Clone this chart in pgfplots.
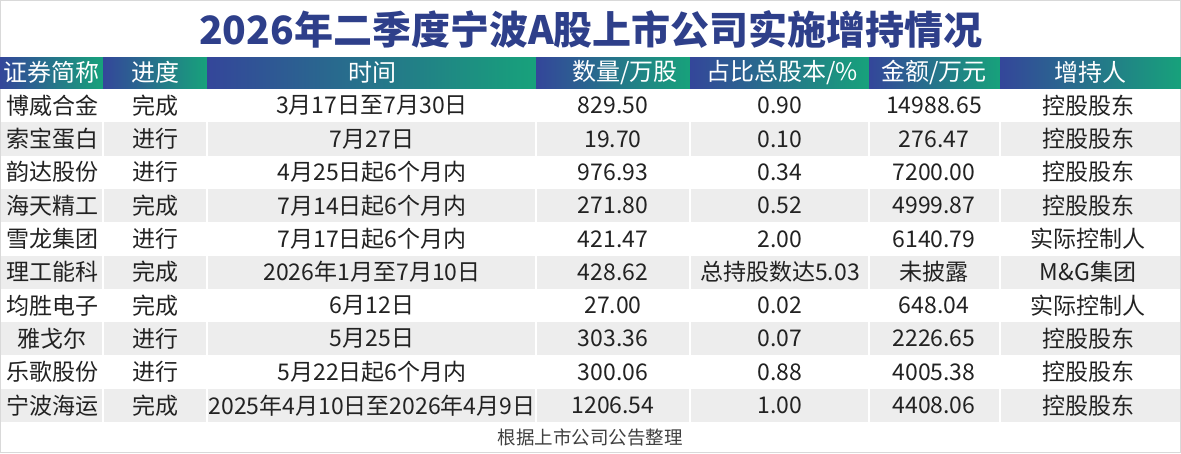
\documentclass[border=0pt]{standalone}
\usepackage{pgfplots}
\usepackage{pgfplotstable}
\pgfplotsset{compat=1.18}
\usepackage{fontspec}
\setmainfont{Noto Sans CJK SC}
\definecolor{hblue}{HTML}{34469A}
\definecolor{hgreen}{HTML}{17A27B}
\definecolor{ttl}{HTML}{2E3F8A}
\definecolor{rowg}{HTML}{EDEDED}
\definecolor{txt}{HTML}{222222}

\pgfplotstableread{
y      name      status  time                        qty      pct             amt        holder
105.6  博威合金  完成    3月17日至7月30日             829.50   0.90            14988.65   控股股东
138.9  索宝蛋白  进行    7月27日                      19.70    0.10            276.47     控股股东
172.2  韵达股份  进行    4月25日起6个月内             976.93   0.34            7200.00    控股股东
205.5  海天精工  完成    7月14日起6个月内             271.80   0.52            4999.87    控股股东
238.8  雪龙集团  进行    7月17日起6个月内             421.47   2.00            6140.79    实际控制人
272.1  理工能科  完成    2026年1月至7月10日           428.62   总持股数达5.03  未披露     M\&G集团
305.4  均胜电子  完成    6月12日                      27.00    0.02            648.04     实际控制人
338.7  雅戈尔    进行    5月25日                      303.36   0.07            2226.65    控股股东
372.0  乐歌股份  进行    5月22日起6个月内             300.06   0.88            4005.38    控股股东
405.3  宁波海运  完成    2025年4月10日至2026年4月9日  1206.54  1.00            4408.06    控股股东
}\datatable

\pgfplotsset{
  cell/.style={draw=none, mark=none, nodes near coords, point meta=explicit symbolic,
    every node near coord/.append style={anchor=center, inner sep=0pt, font=\fontsize{23}{23}\selectfont, text=txt}},
  hdr/.style={draw=none, left color=hblue, right color=hgreen},
}

\begin{document}
\begin{tikzpicture}
\begin{axis}[
  scale only axis, width=1181pt, height=453pt,
  xmin=0, xmax=1181, ymin=0, ymax=453, y dir=reverse,
  hide axis, clip=false,
]
% frame
\addplot[draw=black!15, fill=white, line width=1pt] coordinates {(0.5,0.5) (1180.5,0.5) (1180.5,452.5) (0.5,452.5)} -- cycle;
% header cells
\addplot[hdr] coordinates {(0,57) (103,57) (103,88) (0,88)} -- cycle;
\addplot[hdr] coordinates {(103,57) (207,57) (207,88) (103,88)} -- cycle;
\addplot[hdr] coordinates {(207,57) (536,57) (536,88) (207,88)} -- cycle;
\addplot[hdr] coordinates {(536,57) (690,57) (690,88) (536,88)} -- cycle;
\addplot[hdr] coordinates {(690,57) (869,57) (869,88) (690,88)} -- cycle;
\addplot[hdr] coordinates {(869,57) (1000,57) (1000,88) (869,88)} -- cycle;
\addplot[hdr] coordinates {(1000,57) (1181,57) (1181,88) (1000,88)} -- cycle;
% grey rows
\addplot[draw=none, fill=rowg] coordinates {(1,122.3) (1180,122.3) (1180,155.6) (1,155.6)} -- cycle;
\addplot[draw=none, fill=rowg] coordinates {(1,188.9) (1180,188.9) (1180,222.2) (1,222.2)} -- cycle;
\addplot[draw=none, fill=rowg] coordinates {(1,255.5) (1180,255.5) (1180,288.8) (1,288.8)} -- cycle;
\addplot[draw=none, fill=rowg] coordinates {(1,322.1) (1180,322.1) (1180,355.4) (1,355.4)} -- cycle;
\addplot[draw=none, fill=rowg] coordinates {(1,388.7) (1180,388.7) (1180,422.0) (1,422.0)} -- cycle;
% white gaps between columns
\addplot[white, line width=2pt] coordinates {(103,89) (103,422)};
\addplot[white, line width=2pt] coordinates {(207,89) (207,422)};
\addplot[white, line width=2pt] coordinates {(536,89) (536,422)};
\addplot[white, line width=2pt] coordinates {(690,89) (690,422)};
\addplot[white, line width=2pt] coordinates {(869,89) (869,422)};
\addplot[white, line width=2pt] coordinates {(1000,89) (1000,422)};
% header labels
\pgfplotsset{every axis/.append style={}}
\node[text=white, font=\fontsize{24}{24}\selectfont, inner sep=0pt] at (axis cs:52,72.5) {证券简称};
\node[text=white, font=\fontsize{24}{24}\selectfont, inner sep=0pt] at (axis cs:155,72.5) {进度};
\node[text=white, font=\fontsize{24}{24}\selectfont, inner sep=0pt] at (axis cs:372,72.5) {时间};
\node[text=white, font=\fontsize{24}{24}\selectfont, inner sep=0pt] at (axis cs:625,72.5) {数量/万股};
\node[text=white, font=\fontsize{24}{24}\selectfont, inner sep=0pt] at (axis cs:782,72.5) {占比总股本/\%};
\node[text=white, font=\fontsize{24}{24}\selectfont, inner sep=0pt] at (axis cs:934,72.5) {金额/万元};
\node[text=white, font=\fontsize{24}{24}\selectfont, inner sep=0pt] at (axis cs:1090,72.5) {增持人};
% data
\addplot[cell] table[x expr=52,   y=y, meta=name]   {\datatable};
\addplot[cell] table[x expr=155,  y=y, meta=status] {\datatable};
\addplot[cell] table[x expr=372,  y=y, meta=time]   {\datatable};
\addplot[cell] table[x expr=613,  y=y, meta=qty]    {\datatable};
\addplot[cell] table[x expr=780,  y=y, meta=pct]    {\datatable};
\addplot[cell] table[x expr=934,  y=y, meta=amt]    {\datatable};
\addplot[cell] table[x expr=1088, y=y, meta=holder] {\datatable};
% title and footer
\node[text=ttl, font=\fontsize{39}{39}\selectfont\bfseries, inner sep=0pt] at (axis cs:591,29) {2026年二季度宁波A股上市公司实施增持情况};
\node[text=black!75, font=\fontsize{18.5}{18.5}\selectfont, inner sep=0pt] at (axis cs:590,437) {根据上市公司公告整理};
\end{axis}
\end{tikzpicture}
\end{document}
